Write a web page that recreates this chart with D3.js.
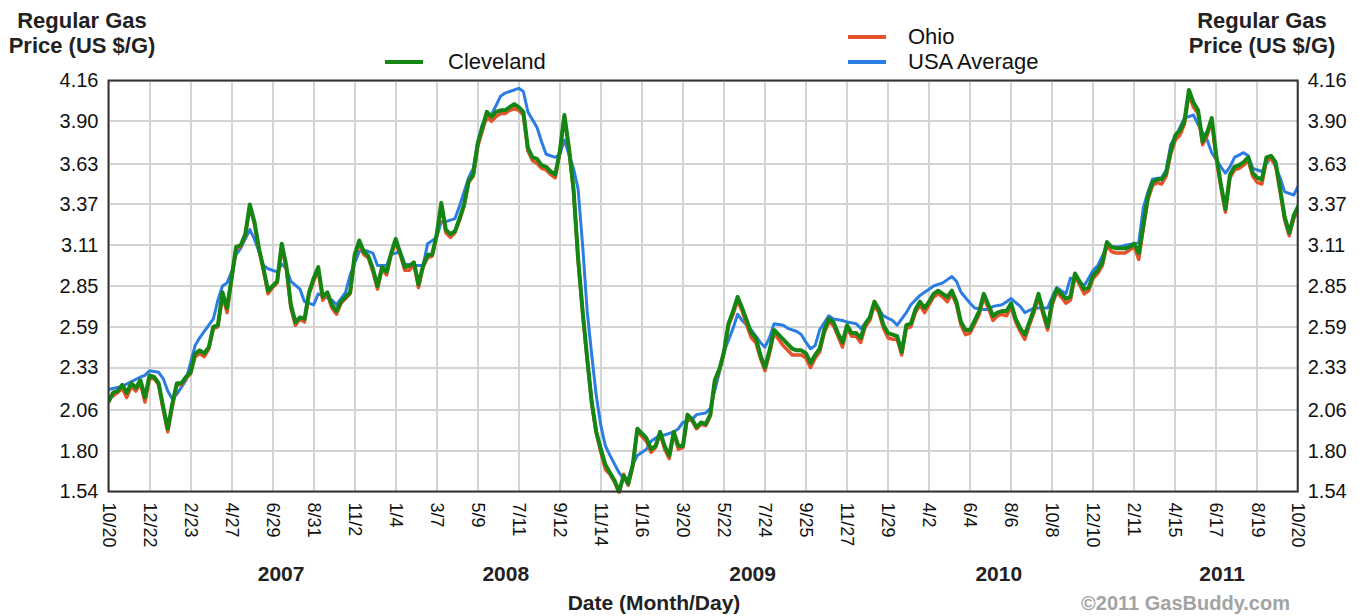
<!DOCTYPE html>
<html lang="en">
<head>
<meta charset="utf-8">
<title>Regular Gas Price - Cleveland</title>
<script src="https://cdnjs.cloudflare.com/ajax/libs/d3/7.8.5/d3.min.js"></script>
<style>
  body { margin: 0; background: #fff; font-family: Arial, "Liberation Sans", sans-serif; }
  svg { display: block; background: #fff; }
  .grid line { stroke: #d4d4d4; stroke-width: 2; shape-rendering: crispEdges; }
  .axis path, .axis line { display: none; }
  .axis text { font-family: Arial, "Liberation Sans", sans-serif; fill: #111; }
  .bold { font-weight: bold; fill: #222; }
</style>
</head>
<body>
<script>
// ---- data ----
var startDate = "2006-10-20";
var endDate = "2011-10-20";

var xTickDates = ["2006-10-20","2006-12-22","2007-02-23","2007-04-27","2007-06-29","2007-08-31",
  "2007-11-02","2008-01-04","2008-03-07","2008-05-09","2008-07-11","2008-09-12","2008-11-14",
  "2009-01-16","2009-03-20","2009-05-22","2009-07-24","2009-09-25","2009-11-27","2010-01-29",
  "2010-04-02","2010-06-04","2010-08-06","2010-10-08","2010-12-10","2011-02-11","2011-04-15",
  "2011-06-17","2011-08-19","2011-10-20"];

var yTicks = [1.54, 1.80, 2.06, 2.33, 2.59, 2.85, 3.11, 3.37, 3.63, 3.90, 4.16];

var yearLabels = ["2007", "2008", "2009", "2010", "2011"];
var yearLabelDates = ["2007-07-12", "2008-06-21", "2009-07-05", "2010-07-18", "2011-06-26"];

// weekly prices, week 0 = 10/20/2006
var clevelandPrices = [
  2.11,2.17,2.18,2.22,2.17,2.23,2.20,2.25,2.14,2.28,
  2.27,2.23,2.08,1.94,2.10,2.23,2.23,2.27,2.30,2.42,
  2.44,2.42,2.46,2.59,2.60,2.81,2.71,2.90,3.10,3.11,
  3.18,3.37,3.26,3.09,2.96,2.82,2.85,2.88,3.12,2.98,
  2.73,2.62,2.65,2.64,2.81,2.90,2.97,2.78,2.81,2.73,
  2.69,2.75,2.78,2.81,3.05,3.14,3.07,3.04,2.96,2.85,
  2.97,2.94,3.06,3.15,3.06,2.97,2.98,3.00,2.86,2.98,
  3.05,3.05,3.18,3.38,3.21,3.18,3.20,3.28,3.37,3.52,
  3.56,3.76,3.86,3.96,3.93,3.96,3.97,3.97,3.99,4.01,
  3.99,3.96,3.73,3.67,3.66,3.62,3.61,3.58,3.56,3.71,
  3.94,3.73,3.47,3.03,2.69,2.39,2.11,1.92,1.81,1.71,
  1.66,1.61,1.54,1.64,1.59,1.71,1.94,1.91,1.88,1.81,
  1.83,1.92,1.83,1.77,1.92,1.83,1.83,2.03,2.00,1.95,
  1.98,1.97,2.03,2.25,2.32,2.43,2.61,2.69,2.78,2.71,
  2.63,2.55,2.52,2.41,2.33,2.44,2.57,2.54,2.51,2.48,
  2.45,2.44,2.44,2.42,2.36,2.41,2.45,2.57,2.64,2.62,
  2.55,2.49,2.60,2.55,2.55,2.52,2.61,2.65,2.75,2.70,
  2.60,2.55,2.54,2.53,2.43,2.60,2.61,2.70,2.75,2.71,
  2.75,2.80,2.82,2.80,2.78,2.82,2.75,2.62,2.57,2.57,
  2.63,2.69,2.80,2.73,2.66,2.68,2.69,2.69,2.74,2.64,
  2.58,2.54,2.62,2.70,2.80,2.69,2.59,2.75,2.83,2.80,
  2.77,2.78,2.93,2.88,2.83,2.84,2.92,2.95,3.00,3.13,
  3.10,3.09,3.09,3.09,3.10,3.12,3.06,3.24,3.42,3.51,
  3.53,3.53,3.57,3.71,3.81,3.84,3.90,4.10,4.02,3.97,
  3.77,3.83,3.92,3.68,3.50,3.34,3.56,3.61,3.62,3.64,
  3.67,3.57,3.54,3.53,3.67,3.68,3.64,3.47,3.29,3.19,
  3.30,3.36];

var ohioPrices = [
  2.13,2.15,2.17,2.20,2.14,2.21,2.18,2.23,2.11,2.26,
  2.26,2.22,2.06,1.92,2.08,2.22,2.22,2.26,2.29,2.40,
  2.42,2.40,2.45,2.58,2.59,2.79,2.68,2.89,3.09,3.10,
  3.17,3.35,3.25,3.08,2.95,2.80,2.84,2.87,3.10,2.96,
  2.71,2.60,2.64,2.62,2.80,2.88,2.95,2.76,2.80,2.71,
  2.67,2.74,2.77,2.80,3.04,3.12,3.05,3.03,2.94,2.83,
  2.96,2.92,3.05,3.13,3.05,2.95,2.95,2.99,2.84,2.97,
  3.03,3.04,3.17,3.36,3.19,3.16,3.19,3.27,3.36,3.51,
  3.55,3.74,3.84,3.93,3.90,3.93,3.95,3.95,3.97,3.98,
  3.97,3.94,3.71,3.65,3.63,3.60,3.59,3.56,3.54,3.70,
  3.93,3.72,3.46,3.02,2.68,2.38,2.10,1.91,1.79,1.68,
  1.65,1.60,1.53,1.65,1.58,1.70,1.93,1.89,1.86,1.79,
  1.82,1.91,1.81,1.75,1.91,1.81,1.82,2.02,1.99,1.94,
  1.97,1.96,2.02,2.24,2.31,2.42,2.60,2.67,2.76,2.69,
  2.60,2.52,2.49,2.39,2.31,2.42,2.55,2.51,2.47,2.44,
  2.41,2.41,2.41,2.39,2.33,2.39,2.43,2.55,2.62,2.60,
  2.53,2.46,2.58,2.53,2.53,2.49,2.59,2.63,2.73,2.68,
  2.58,2.52,2.51,2.51,2.41,2.58,2.59,2.68,2.73,2.68,
  2.73,2.78,2.80,2.78,2.75,2.80,2.73,2.60,2.54,2.55,
  2.61,2.67,2.78,2.71,2.63,2.66,2.67,2.66,2.72,2.62,
  2.56,2.51,2.60,2.68,2.78,2.67,2.57,2.73,2.81,2.78,
  2.74,2.76,2.91,2.86,2.80,2.82,2.90,2.93,2.98,3.11,
  3.07,3.06,3.06,3.06,3.08,3.10,3.02,3.22,3.40,3.49,
  3.51,3.50,3.55,3.69,3.78,3.81,3.88,4.07,3.99,3.95,
  3.75,3.81,3.90,3.66,3.48,3.32,3.54,3.59,3.60,3.62,
  3.65,3.55,3.51,3.50,3.65,3.66,3.62,3.45,3.27,3.17,
  3.28,3.34];

var usaWeeks = [
  0,3,7,8,9,11,12,13,14,15,
  17,18,19,20,21,22,23,24,25,26,
  27,28,29,31,32,33,34,35,37,38,
  39,40,42,43,45,46,47,49,50,52,
  53,55,56,58,59,61,62,64,65,67,
  69,70,72,73,74,76,77,79,80,81,
  82,84,86,87,88,90,91,92,94,95,
  96,98,99,100,102,103,104,105,106,107,
  108,109,110,112,113,114,115,116,118,119,
  121,122,124,125,126,128,129,131,132,134,
  135,137,138,139,140,141,143,144,145,146,
  148,149,151,152,153,154,155,156,158,159,
  161,162,164,165,167,168,169,170,172,173,
  175,176,178,179,181,182,183,185,186,187,
  189,190,192,193,194,196,197,198,200,201,
  203,204,206,207,208,209,210,211,213,214,
  215,216,217,219,220,222,223,225,226,227,
  228,229,231,232,233,234,235,236,238,239,
  240,241,242,244,245,246,247,249,250,251,
  253,254,255,256,257,258,260,261];

var usaPrices = [
  2.19,2.21,2.27,2.28,2.31,2.30,2.26,2.18,2.13,2.16,
  2.25,2.36,2.47,2.52,2.56,2.60,2.64,2.76,2.85,2.87,
  2.94,3.05,3.09,3.21,3.15,3.07,2.98,2.96,2.94,2.99,
  2.96,2.88,2.83,2.75,2.73,2.80,2.79,2.76,2.73,2.81,
  2.92,3.07,3.08,3.06,2.98,2.98,3.05,3.07,2.99,2.98,
  2.98,3.12,3.16,3.26,3.26,3.28,3.36,3.54,3.60,3.77,
  3.88,3.94,4.06,4.08,4.09,4.11,4.09,3.96,3.86,3.77,
  3.69,3.67,3.69,3.78,3.60,3.47,3.11,2.69,2.41,2.15,
  1.96,1.83,1.77,1.66,1.62,1.62,1.71,1.77,1.81,1.86,
  1.90,1.90,1.92,1.94,1.98,2.00,2.03,2.04,2.07,2.30,
  2.43,2.58,2.67,2.63,2.60,2.57,2.49,2.46,2.52,2.61,
  2.60,2.58,2.56,2.54,2.49,2.45,2.47,2.57,2.66,2.64,
  2.63,2.62,2.61,2.58,2.64,2.73,2.70,2.66,2.63,2.60,
  2.68,2.73,2.79,2.81,2.85,2.86,2.87,2.91,2.88,2.81,
  2.74,2.71,2.70,2.70,2.72,2.73,2.75,2.77,2.72,2.68,
  2.71,2.71,2.71,2.78,2.84,2.82,2.80,2.90,2.88,2.85,
  2.90,2.95,2.98,3.10,3.10,3.10,3.11,3.12,3.13,3.35,
  3.45,3.53,3.54,3.59,3.75,3.80,3.86,3.92,3.94,3.88,
  3.83,3.78,3.70,3.61,3.57,3.61,3.67,3.70,3.68,3.60,
  3.58,3.63,3.67,3.61,3.54,3.45,3.43,3.49];

// ---- canvas ----
var fullWidth = 1359, fullHeight = 616;
var plot = {left: 108.5, right: 1297.7, top: 80.5, bottom: 491.5};

var parse = d3.timeParse("%Y-%m-%d");
var start = parse(startDate);
function weekDate(w) { return d3.timeDay.offset(start, w * 7); }

var svg = d3.select("body").append("svg")
  .attr("width", fullWidth)
  .attr("height", fullHeight);

var xScale = d3.scaleTime()
  .domain([start, parse(endDate)])
  .range([plot.left, plot.right]);
var yScale = d3.scaleLinear()
  .domain([1.54, 4.16])
  .range([plot.bottom, plot.top]);

// grid
var grid = svg.append("g").attr("class", "grid");
grid.selectAll("line.v").data(xTickDates).enter().append("line")
  .attr("class", "v")
  .attr("x1", function(d) { return Math.round(xScale(parse(d))); })
  .attr("x2", function(d) { return Math.round(xScale(parse(d))); })
  .attr("y1", plot.top).attr("y2", plot.bottom);
grid.selectAll("line.h").data(yTicks).enter().append("line")
  .attr("class", "h")
  .attr("x1", plot.left).attr("x2", plot.right)
  .attr("y1", function(d) { return Math.round(yScale(d)); })
  .attr("y2", function(d) { return Math.round(yScale(d)); });

// lines
svg.append("clipPath").attr("id", "clip").append("rect")
  .attr("x", plot.left).attr("y", plot.top - 6)
  .attr("width", plot.right - plot.left).attr("height", plot.bottom - plot.top + 8);

var line = d3.line()
  .x(function(d) { return xScale(d.date); })
  .y(function(d) { return yScale(d.v); });

var usa = usaWeeks.map(function(w, i) { return {date: weekDate(w), v: usaPrices[i]}; });
var ohio = ohioPrices.map(function(v, i) { return {date: weekDate(i), v: v}; });
var cleveland = clevelandPrices.map(function(v, i) { return {date: weekDate(i), v: v}; });

var series = [
  {name: "USA Average", data: usa, color: "#2b7de3", width: 3},
  {name: "Ohio", data: ohio, color: "#e4532b", width: 3.5},
  {name: "Cleveland", data: cleveland, color: "#148614", width: 4}
];

svg.append("g").attr("clip-path", "url(#clip)")
  .selectAll("path").data(series).enter().append("path")
  .attr("d", function(d) { return line(d.data); })
  .attr("fill", "none")
  .attr("stroke", function(d) { return d.color; })
  .attr("stroke-width", function(d) { return d.width; })
  .attr("stroke-linejoin", "round");

// frame
svg.append("rect")
  .attr("x", plot.left).attr("y", plot.top)
  .attr("width", plot.right - plot.left).attr("height", plot.bottom - plot.top)
  .attr("fill", "none").attr("stroke", "#333").attr("stroke-width", 2);

// axes
var fmt2 = d3.format(".2f");
svg.append("g").attr("class", "axis")
  .attr("transform", "translate(" + (plot.left - 1) + ",0)")
  .call(d3.axisLeft(yScale).tickValues(yTicks).tickFormat(fmt2).tickSize(0).tickPadding(9))
  .selectAll("text").style("font-size", "20px");

svg.append("g").attr("class", "axis")
  .attr("transform", "translate(" + (plot.right + 1) + ",0)")
  .call(d3.axisRight(yScale).tickValues(yTicks).tickFormat(fmt2).tickSize(0).tickPadding(9))
  .selectAll("text").style("font-size", "20px");

svg.append("g").attr("class", "axis")
  .attr("transform", "translate(0," + plot.bottom + ")")
  .call(d3.axisBottom(xScale).tickValues(xTickDates.map(parse))
    .tickFormat(d3.timeFormat("%-m/%-d")).tickSize(0))
  .selectAll("text")
  .style("font-size", "18px")
  .attr("text-anchor", "start")
  .attr("transform", "rotate(90)")
  .attr("x", 11).attr("y", 0).attr("dy", "0.35em");

// year labels
svg.selectAll("text.year").data(yearLabels).enter().append("text")
  .attr("class", "year bold")
  .attr("x", function(d, i) { return xScale(parse(yearLabelDates[i])); })
  .attr("y", 581)
  .attr("text-anchor", "middle")
  .style("font-size", "21px")
  .text(function(d) { return d; });

// axis titles
[82, 1262].forEach(function(cx) {
  svg.append("text").attr("class", "bold").attr("x", cx).attr("y", 28)
    .attr("text-anchor", "middle").style("font-size", "22px").text("Regular Gas");
  svg.append("text").attr("class", "bold").attr("x", cx).attr("y", 53)
    .attr("text-anchor", "middle").style("font-size", "22px").text("Price (US $/G)");
});

svg.append("text").attr("class", "bold")
  .attr("x", 654).attr("y", 610).attr("text-anchor", "middle")
  .style("font-size", "21px").text("Date (Month/Day)");

svg.append("text")
  .attr("x", 1290).attr("y", 610).attr("text-anchor", "end")
  .style("font-size", "20px").style("font-weight", "bold").attr("fill", "#a3a3a3")
  .text("\u00a92011 GasBuddy.com");

// legend
var legend = [
  {name: "Cleveland", color: "#148614", x: 385, y: 62},
  {name: "Ohio", color: "#e4532b", x: 848, y: 37},
  {name: "USA Average", color: "#2b7de3", x: 848, y: 62}
];
var lg = svg.selectAll("g.legend").data(legend).enter().append("g").attr("class", "legend");
lg.append("line")
  .attr("x1", function(d) { return d.x; })
  .attr("x2", function(d) { return d.x + 38; })
  .attr("y1", function(d) { return d.y; })
  .attr("y2", function(d) { return d.y; })
  .attr("stroke", function(d) { return d.color; })
  .attr("stroke-width", 4);
lg.append("text")
  .attr("x", function(d) { return d.x + (d.name === "Cleveland" ? 63 : 60); })
  .attr("y", function(d) { return d.y + 7; })
  .style("font-size", "22px")
  .attr("fill", "#111")
  .text(function(d) { return d.name; });
</script>
</body>
</html>
